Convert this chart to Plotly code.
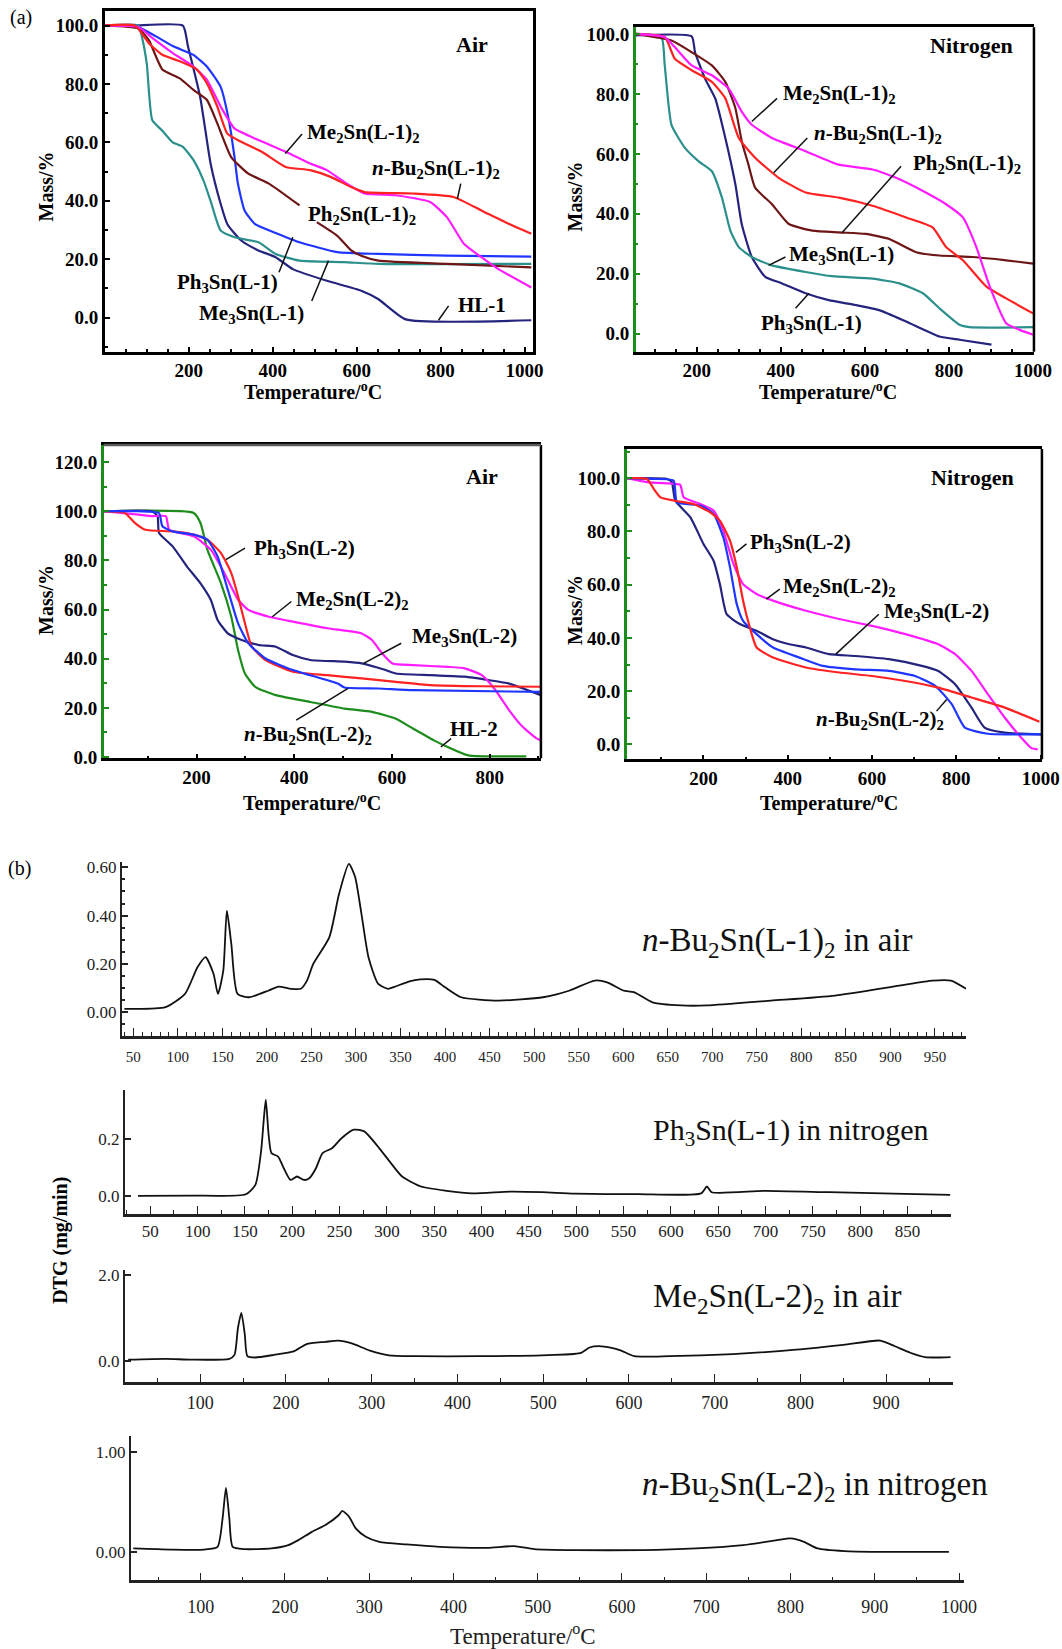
import plotly.graph_objects as go

W, H = 1062, 1649
# target pixel positions measured on the reference, corrected for the observed render mapping
def px(x): return ((x + 1.0) / 0.985) / W
def py(y): return 1 - ((y - 7.7) / 0.9908) / H

SERIF = "Liberation Serif"
NAVY = "#24247f"; TEAL = "#2b8f8c"; BLUE = "#2036ff"; BROWN = "#6e1616"
MAGENTA = "#ff1cff"; RED = "#ff2222"; GREEN = "#1d8c1d"

# ---------------- (a) TGA, L-1 in air ----------------
a1_hl1_T = [0, 68, 186, 198, 227, 252, 276, 292, 325, 366, 407, 448, 529, 611, 652, 717, 1016]
a1_hl1_m = [100, 100, 100, 93, 75.7, 52.8, 39, 32, 26.4, 23, 20.7, 16.6, 12.6, 9.2, 6.3, -0.6, -0.9]
a1_me3_T = [0, 80, 88, 100, 113, 137, 162, 186, 211, 235, 252, 276, 309, 366, 407, 464, 570, 652, 1016]
a1_me3_m = [100, 100, 96.4, 87, 67.7, 64, 60, 58.5, 54, 47, 40, 29.8, 27.5, 25.8, 21.8, 19.5, 19, 18.4, 18.4]
a1_ph3_T = [0, 72, 121, 162, 211, 243, 276, 297, 309, 317, 333, 358, 407, 464, 554, 652, 815, 1016]
a1_ph3_m = [100, 100, 96.4, 93, 90, 86, 79, 66.5, 55, 46, 36.7, 32, 29, 25.8, 22.4, 21.8, 21.2, 20.9]
a1_ph2_T = [0, 80, 105, 137, 178, 211, 243, 268, 301, 342, 391, 464, None, 505, 554, 587, 611, 652, 815, 1016]
a1_ph2_m = [100, 99, 95, 85, 82, 78, 74.6, 66.5, 55, 49.3, 45.9, 38.4, None, 32.7, 28, 23, 21.2, 19.5, 18.4, 17.2]
a1_me2_T = [0, 80, 113, 162, 211, 243, 276, 309, 366, 431, 489, 529, 570, 619, 693, 775, 815, 856, 897, 938, 1016]
a1_me2_m = [100, 99.5, 95.8, 90.6, 86, 81.5, 72.3, 64.8, 60.8, 56.8, 52.8, 50.5, 46.5, 42.5, 41.9, 39.6, 34.4, 25.2, 20.7, 16.6, 10.3]
a1_bu2_T = [0, 72, 105, 137, 178, 219, 243, 268, 292, 325, 374, 431, 489, 538, 587, 619, 734, 831, 897, 962, 1016]
a1_bu2_m = [100, 100, 94, 90, 87.8, 85, 80.3, 72.3, 63, 60.2, 56.8, 51.6, 50.5, 48.2, 44.7, 43, 42.5, 41.3, 36.7, 32.1, 28.7]

# ---------------- TGA, L-1 in nitrogen ----------------
a2_ph3_T = [55, 188, 196, 220, 244, 268, 292, 307, 331, 363, 403, 459, 514, 578, 634, 698, 777, 825, 901]
a2_ph3_m = [99.5, 99.2, 93.9, 85, 78.5, 65.3, 49.8, 36.6, 25.6, 19, 16.8, 13.5, 11.2, 9.6, 7.9, 4.1, -0.9, -2, -3.6]
a2_me3_T = [55, 116, 124, 140, 172, 204, 236, 260, 280, 300, 331, 379, 459, 522, 618, 682, 738, 777, 825, 849, 1004]
a2_me3_m = [100, 98.9, 89.5, 69.7, 62, 57.6, 54.2, 45.4, 34.4, 28.9, 25.6, 22.8, 20.6, 19.2, 18.4, 16.8, 13.5, 8.5, 3, 2.2, 2.2]
a2_ph2_T = [55, 140, 188, 236, 268, 292, 307, 323, 339, 379, 419, 475, 538, 602, 658, 722, 777, 857, 936, 1000]
a2_ph2_m = [100, 97.8, 93.9, 89.5, 84, 75.2, 64.2, 56.4, 48.7, 43.2, 36.6, 34.4, 33.8, 33.3, 31.6, 27.2, 26.1, 25.6, 24.5, 23.4]
a2_bu2_T = [55, 124, 148, 188, 236, 268, 300, 339, 395, 459, 538, 618, 698, 761, 793, 833, 889, 936, 1000]
a2_bu2_m = [100, 98.9, 91.7, 87.9, 84, 78.5, 65.3, 58.7, 52, 47.1, 45.4, 42.7, 38.8, 35.5, 28.9, 24.5, 15.7, 11.8, 6.8]
a2_me2_T = [55, 124, 148, 188, 236, 276, 307, 331, 379, 459, 538, 618, 674, 738, 793, 833, 865, 897, 936, 968, 1000]
a2_me2_m = [100, 98.9, 95.6, 89.5, 86.2, 81.8, 74.1, 69.7, 65.3, 60.9, 56.4, 54.8, 52, 47.6, 43.2, 38.8, 28.9, 15.7, 3.5, 1.3, -0.3]

# ---------------- TGA, L-2 in air ----------------
b1_hl2_T = [10, 194, 208, 222, 250, 271, 285, 299, 320, 362, 433, 503, 559, 608, 643, 686, 714, 756, 875]
b1_hl2_m = [100, 99.3, 95.2, 84.4, 70.7, 57.1, 43.5, 34, 28.6, 25.2, 22.4, 19.7, 18.4, 15.6, 11.6, 6.8, 4.1, 0.7, 0.3]
b1_me3_T = [10, 109, 120, 123, 151, 180, 208, 229, 243, 264, 292, 327, 362, 397, 433, 503, 538, 587, 608, 679, 749, 798, 840, 905]
b1_me3_m = [100, 100, 98, 91.2, 85.7, 77.6, 70.7, 64, 55.8, 50.3, 47.6, 45.6, 44.9, 41.5, 39.5, 38.8, 38.1, 35.4, 34, 33.3, 32.7, 31.3, 29.9, 25.2]
b1_ph3_T = [10, 53, 74, 95, 151, 194, 222, 250, 271, 285, 299, 313, 341, 397, 468, 538, 608, 679, 784, 905]
b1_ph3_m = [100, 99.3, 95.2, 92.5, 91.8, 90.5, 88.4, 83, 74.8, 65.3, 54.4, 44.9, 39.5, 34.7, 33.3, 32, 30.6, 29.3, 28.8, 28.6]
b1_bu2_T = [10, 81, 123, 130, 151, 194, 222, 243, 264, 285, 306, 341, 397, 433, 489, 503, 573, 643, 905]
b1_bu2_m = [100, 100, 99.3, 93.9, 91.8, 90.5, 88.4, 81.6, 68, 54.4, 46.3, 40.1, 35.4, 33.3, 29.9, 28.3, 27.9, 27.2, 26.5]
b1_me2_T = [10, 81, 109, 137, 144, 194, 229, 257, 285, 306, 348, 397, 468, 538, 559, 580, 601, 643, 714, 749, 784, 812, 840, 868, 897, 905]
b1_me2_m = [100, 98.6, 98, 98, 92.5, 89.8, 84.4, 74.8, 64, 59.9, 57.1, 55.1, 52.4, 50.3, 47.6, 42.2, 38.1, 37.4, 36.7, 36.1, 33.3, 27.2, 19, 12.2, 7.5, 6.8]

# ---------------- TGA, L-2 in nitrogen ----------------
b2_me3_T = [18, 114, 125, 133, 169, 200, 224, 239, 255, 286, 326, 365, 404, 443, 498, 561, 640, 718, 757, 797, 836, 867, 915, 1001]
b2_me3_m = [100, 99.7, 98.5, 91.6, 85.3, 75.3, 69, 60.2, 48.9, 45.2, 42.7, 39.5, 37.6, 36.4, 33.9, 33.2, 32, 29.5, 27.6, 22.6, 13.8, 6.3, 4.4, 3.8]
b2_bu2_T = [18, 74, 129, 137, 192, 224, 247, 263, 279, 294, 326, 365, 428, 483, 561, 640, 702, 750, 789, 820, 875, 1001]
b2_bu2_m = [100, 99.7, 99.1, 91, 89.7, 86.6, 77.8, 66.5, 52.7, 46.4, 41.4, 36.4, 32.6, 29.5, 28.2, 27.6, 25.7, 22, 15.1, 6.3, 4, 3.8]
b2_ph3_T = [18, 66, 82, 98, 129, 176, 216, 239, 263, 279, 294, 310, 326, 365, 443, 522, 600, 679, 757, 836, 915, 997]
b2_ph3_m = [100, 99.7, 96, 92.8, 91.6, 90.3, 87.2, 84, 76.5, 66.5, 54, 43.9, 36.4, 32.6, 28.9, 27, 25.7, 23.8, 21.3, 17.6, 13.8, 8.5]
b2_me2_T = [18, 66, 129, 145, 153, 192, 224, 247, 271, 294, 326, 365, 443, 522, 600, 679, 757, 797, 836, 875, 915, 954, 977, 993]
b2_me2_m = [100, 98.5, 97.9, 97.5, 92.8, 90.3, 87.8, 80.3, 67.8, 60.2, 56.5, 54, 50.2, 47.1, 44.5, 41.4, 37.6, 33.9, 27.6, 18.8, 10, 2.5, -1.3, -1.9]

# ---------------- (b) DTG ----------------
d1_T = [40, 86, 108, 122, 131, 140, 145, 151, 155, 160, 167, 180, 202, 213, 227, 238, 245, 252, 270, 281, 292, 299, 306, 314, 325, 336, 343, 360, 372, 388, 400, 418, 460, 510, 540, 568, 582, 600, 612, 633, 665, 694, 766, 838, 910, 947, 968, 985]
d1_v = [0.014, 0.021, 0.076, 0.186, 0.228, 0.159, 0.076, 0.172, 0.42, 0.283, 0.076, 0.062, 0.09, 0.106, 0.097, 0.097, 0.131, 0.2, 0.31, 0.49, 0.614, 0.56, 0.41, 0.228, 0.117, 0.097, 0.105, 0.128, 0.136, 0.134, 0.103, 0.062, 0.048, 0.062, 0.09, 0.131, 0.124, 0.09, 0.083, 0.041, 0.028, 0.028, 0.048, 0.069, 0.11, 0.131, 0.131, 0.097]
d2_T = [37, 94, 151, 161, 167, 170, 172, 175, 178, 185, 191, 198, 205, 212, 218, 225, 232, 242, 252, 265, 276, 289, 303, 316, 336, 363, 390, 430, 464, 498, 565, 632, 638, 643, 700, 767, 835, 895]
d2_v = [0.0, 0.001, 0.006, 0.039, 0.156, 0.273, 0.337, 0.214, 0.15, 0.138, 0.097, 0.056, 0.068, 0.056, 0.062, 0.097, 0.15, 0.167, 0.202, 0.232, 0.226, 0.179, 0.12, 0.068, 0.033, 0.018, 0.009, 0.015, 0.013, 0.008, 0.006, 0.009, 0.033, 0.013, 0.018, 0.013, 0.008, 0.004]
d3_T = [16, 60, 90, 134, 140, 144, 148, 152, 155, 164, 186, 209, 224, 246, 261, 276, 298, 320, 350, 424, 498, 543, 554, 565, 580, 591, 606, 647, 721, 795, 850, 893, 910, 928, 945, 960, 975]
d3_v = [0.04, 0.06, 0.04, 0.06, 0.15, 0.77, 1.12, 0.62, 0.12, 0.09, 0.15, 0.23, 0.4, 0.45, 0.48, 0.42, 0.25, 0.14, 0.12, 0.12, 0.14, 0.19, 0.32, 0.35, 0.31, 0.25, 0.12, 0.12, 0.17, 0.27, 0.38, 0.48, 0.35, 0.2, 0.1, 0.09, 0.1]
d4_T = [20, 64, 104, 120, 126, 130, 134, 138, 152, 184, 204, 216, 232, 248, 264, 268, 276, 284, 296, 312, 344, 384, 440, 472, 496, 544, 624, 688, 744, 784, 800, 816, 832, 864, 904, 988]
d4_v = [0.034, 0.023, 0.023, 0.05, 0.336, 0.64, 0.336, 0.05, 0.027, 0.034, 0.067, 0.117, 0.2, 0.268, 0.369, 0.41, 0.352, 0.235, 0.151, 0.1, 0.074, 0.05, 0.04, 0.057, 0.027, 0.017, 0.017, 0.034, 0.067, 0.117, 0.134, 0.1, 0.034, 0.007, 0.0, 0.0]

fig = go.Figure()

def add_curve(T, v, color, ax, width=2.2, smooth=0.5):
    fig.add_trace(go.Scatter(
        x=T, y=v, mode="lines",
        line=dict(color=color, width=width, shape="spline", smoothing=smooth),
        xaxis="x" + ax, yaxis="y" + ax, showlegend=False, hoverinfo="skip",
        connectgaps=False))

for T, m, c in [(a1_hl1_T, a1_hl1_m, NAVY), (a1_me3_T, a1_me3_m, TEAL), (a1_ph3_T, a1_ph3_m, BLUE),
                (a1_ph2_T, a1_ph2_m, BROWN), (a1_me2_T, a1_me2_m, MAGENTA), (a1_bu2_T, a1_bu2_m, RED)]:
    add_curve(T, m, c, "")
for T, m, c in [(a2_ph3_T, a2_ph3_m, NAVY), (a2_me3_T, a2_me3_m, TEAL), (a2_ph2_T, a2_ph2_m, BROWN),
                (a2_bu2_T, a2_bu2_m, RED), (a2_me2_T, a2_me2_m, MAGENTA)]:
    add_curve(T, m, c, "2")
for T, m, c in [(b1_hl2_T, b1_hl2_m, GREEN), (b1_me3_T, b1_me3_m, NAVY), (b1_me2_T, b1_me2_m, MAGENTA),
                (b1_ph3_T, b1_ph3_m, RED), (b1_bu2_T, b1_bu2_m, BLUE)]:
    add_curve(T, m, c, "3")
for T, m, c in [(b2_me3_T, b2_me3_m, NAVY), (b2_me2_T, b2_me2_m, MAGENTA), (b2_bu2_T, b2_bu2_m, BLUE),
                (b2_ph3_T, b2_ph3_m, RED)]:
    add_curve(T, m, c, "4")
add_curve(d1_T, d1_v, "#111111", "5", width=1.8, smooth=0.6)
add_curve(d2_T, d2_v, "#111111", "6", width=1.8, smooth=0.6)
add_curve(d3_T, d3_v, "#111111", "7", width=1.8, smooth=0.6)
add_curve(d4_T, d4_v, "#111111", "8", width=1.8, smooth=0.6)

def dom_x(l, r): return [max(0, px(l)), min(1, px(r))]
def dom_y(top, bot): return [max(0, py(bot)), min(1, py(top))]

bold_tick = dict(family=SERIF, size=19, color="black", weight="bold")

def tga_x(domain, rng, tickvals, anchor, minor_dtick=50):
    return dict(domain=domain, range=rng, tickvals=tickvals, tickformat="d",
                ticks="inside", ticklen=5, tickwidth=1.5, tickcolor="black",
                minor=dict(ticks="inside", ticklen=3, tick0=0, dtick=minor_dtick, tickcolor="black"),
                showline=True, linewidth=2.5, linecolor="black", mirror=True,
                showgrid=False, zeroline=False, anchor=anchor, tickfont=bold_tick,
                ticklabelstandoff=0)

def tga_y(domain, rng, tickvals, anchor, color="black", mirror=True):
    return dict(domain=domain, range=rng, tickvals=tickvals, tickformat=".1f",
                ticks="inside", ticklen=5, tickwidth=1.5, tickcolor=color,
                minor=dict(ticks="inside", ticklen=3, tick0=0, dtick=10, tickcolor=color),
                showline=True, linewidth=2.5, linecolor=color, mirror=mirror,
                showgrid=False, zeroline=False, anchor=anchor, tickfont=bold_tick)

def dtg_x(domain, rng, tickvals, anchor, minor_dtick, size, standoff):
    return dict(domain=domain, range=rng, tickvals=tickvals, tickformat="d",
                ticks="inside", ticklen=8, tickwidth=1.3, tickcolor="#222",
                minor=dict(ticks="inside", ticklen=4, tick0=0, dtick=minor_dtick, tickcolor="#222"),
                showline=True, linewidth=2.5, linecolor="#222", mirror=False,
                showgrid=False, zeroline=False, anchor=anchor,
                tickfont=dict(family=SERIF, size=size, color="#222"), ticklabelstandoff=standoff)

def dtg_y(domain, rng, tickvals, fmt, anchor, minor_dtick=None):
    d = dict(domain=domain, range=rng, tickvals=tickvals, tickformat=fmt,
             ticks="inside", ticklen=6, tickwidth=1.5, tickcolor="#222",
             showline=True, linewidth=1.6, linecolor="#222", mirror=False,
             showgrid=False, zeroline=False, anchor=anchor,
             tickfont=dict(family=SERIF, size=17, color="#222"))
    if minor_dtick:
        d["minor"] = dict(ticks="inside", ticklen=3, tick0=0, dtick=minor_dtick, tickcolor="#222")
    return d

layout = dict(
    width=W, height=H, autosize=False, margin=dict(l=0, r=0, t=0, b=0),
    paper_bgcolor="white", plot_bgcolor="white", showlegend=False,
    xaxis=tga_x(dom_x(104, 533), [0, 1020], [200, 400, 600, 800, 1000], "y"),
    yaxis=tga_y(dom_y(15, 355), [-11.7, 104.9], [0, 20, 40, 60, 80, 100], "x"),
    xaxis2=tga_x(dom_x(636, 1035), [55, 1002], [200, 400, 600, 800, 1000], "y2"),
    yaxis2=tga_y(dom_y(31, 355), [-6.0, 102.2], [0, 20, 40, 60, 80, 100], "x2", GREEN, False),
    xaxis3=tga_x(dom_x(103, 541), [10, 905], [200, 400, 600, 800], "y3", 100),
    yaxis3=tga_y(dom_y(448, 761), [-0.5, 127], [0, 20, 40, 60, 80, 100, 120], "x3", GREEN, False),
    xaxis4=tga_x(dom_x(627, 1043), [18, 1003], [200, 400, 600, 800, 1000], "y4", 100),
    yaxis4=tga_y(dom_y(452, 762), [-5.6, 111], [0, 20, 40, 60, 80, 100], "x4", GREEN, False),
    xaxis5=dtg_x(dom_x(121, 967), [37, 985], list(range(50, 951, 50)), "y5", 10, 15, 6),
    yaxis5=dtg_y(dom_y(865, 1038), [-0.097, 0.62], [0, 0.2, 0.4, 0.6], ".2f", "x5", 0.05),
    xaxis6=dtg_x(dom_x(124, 952), [23, 896], list(range(50, 851, 50)), "y6", 25, 17, 0),
    yaxis6=dtg_y(dom_y(1092, 1216), [-0.063, 0.372], [0, 0.2], ".1f", "x6"),
    xaxis7=dtg_x(dom_x(124, 954), [12, 978], list(range(100, 901, 100)), "y7", 50, 18, 3),
    yaxis7=dtg_y(dom_y(1272, 1384), [-0.478, 2.108], [0, 2], ".1f", "x7"),
    xaxis8=dtg_x(dom_x(130, 965), [17, 1006], list(range(100, 1001, 100)), "y8", 50, 18, 8),
    yaxis8=dtg_y(dom_y(1438, 1582), [-0.286, 1.158], [0, 1], ".2f", "x8"),
)

shapes = []
for ax in ["2", "3", "4"]:
    shapes.append(dict(type="line", xref="x%s domain" % ax, yref="y%s domain" % ax,
                       x0=1, x1=1, y0=0, y1=1, line=dict(color="black", width=2.5)))
shapes.append(dict(type="line", xref="x3 domain", yref="y3 domain", x0=0, x1=1, y0=1, y1=1,
                   line=dict(color="#5a5a5a", width=2.5)))

def leader(ax, x0, y0, x1, y1):
    shapes.append(dict(type="line", xref="x" + ax, yref="y" + ax, x0=x0, y0=y0, x1=x1, y1=y1,
                       line=dict(color="#111", width=1.5)))

leader("", 430, 56.2, 470, 62.9)
leader("", 840, 40.7, 848, 45.9)
leader("", 415, 15.5, 448, 27.5)
leader("", 493, 5.7, 533, 19.5)
leader("", 795, -0.9, 819, 4.0)
leader("2", 331, 70.8, 391, 78.5)
leader("2", 383, 53.7, 463, 65.3)
leader("2", 546, 33.8, 686, 55.9)
leader("2", 371, 22.8, 411, 25.6)
leader("2", 435, 8.5, 467, 13.5)
leader("3", 260, 80.3, 299, 85.0)
leader("3", 355, 57.1, 394, 63.3)
leader("3", 542, 38.1, 619, 46.3)
leader("3", 404, 15.0, 510, 27.9)
leader("3", 700, 4.1, 721, 7.5)
leader("4", 277, 72.1, 302, 75.3)
leader("4", 349, 54.6, 381, 58.3)
leader("4", 514, 33.9, 616, 48.9)
leader("4", 753, 12.5, 777, 16.9)
layout["shapes"] = shapes

ann = []
def text(x, y, s, size=21, bold=True, xanchor="left", angle=0, color="black"):
    ann.append(dict(x=px(x), y=py(y), xref="paper", yref="paper", text=s, showarrow=False,
                    xanchor=xanchor, yanchor="middle", textangle=angle,
                    font=dict(family=SERIF, size=size, color=color, weight="bold" if bold else "normal")))

ME2_1 = "Me<sub>2</sub>Sn(L-1)<sub>2</sub>"
BU2_1 = "<i>n</i>-Bu<sub>2</sub>Sn(L-1)<sub>2</sub>"
PH2_1 = "Ph<sub>2</sub>Sn(L-1)<sub>2</sub>"
PH3_1 = "Ph<sub>3</sub>Sn(L-1)"
ME3_1 = "Me<sub>3</sub>Sn(L-1)"
PH3_2 = "Ph<sub>3</sub>Sn(L-2)"
ME2_2 = "Me<sub>2</sub>Sn(L-2)<sub>2</sub>"
ME3_2 = "Me<sub>3</sub>Sn(L-2)"
BU2_2 = "<i>n</i>-Bu<sub>2</sub>Sn(L-2)<sub>2</sub>"

text(20, 21, "(a)", 20, False, "center")
text(19, 871, "(b)", 20, False, "center")
text(472, 48, "Air", 22, True, "center")
text(972, 49, "Nitrogen", 22, True, "center")
text(482, 480, "Air", 22, True, "center")
text(973, 481, "Nitrogen", 22, True, "center")

text(305, 137, ME2_1); text(370, 172, BU2_1); text(306, 218, PH2_1)
text(174, 286, PH3_1); text(196, 317, ME3_1); text(456, 308, "HL-1")
text(782, 98, ME2_1); text(813, 138, BU2_1); text(912, 167, PH2_1)
text(788, 258, ME3_1); text(760, 327, PH3_1)
text(251, 552, PH3_2); text(294, 603, ME2_2); text(410, 640, ME3_2)
text(241, 738, BU2_2); text(448, 732, "HL-2")
text(748, 546, PH3_2); text(782, 590, ME2_2); text(883, 615, ME3_2); text(815, 723, BU2_2)

TEMP = "Temperature/<sup>o</sup>C"
for (mx, my, tx, ty) in [(45, 190, 313, 395), (575, 200, 829, 395), (45, 603, 312, 805), (575, 613, 830, 805)]:
    text(mx, my, "Mass/%", 20, True, "center", -90)
    text(tx, ty, TEMP, 20, True, "center")

text(60, 1242, "DTG (mg/min)", 20, True, "center", -90)
text(523, 1636, TEMP, 23, False, "center", color="#222")
text(778, 945, "<i>n</i>-Bu<sub>2</sub>Sn(L-1)<sub>2</sub> in air", 33, False, "center", color="#111")
text(791, 1134, "Ph<sub>3</sub>Sn(L-1) in nitrogen", 30, False, "center", color="#111")
text(778, 1300, "Me<sub>2</sub>Sn(L-2)<sub>2</sub> in air", 33, False, "center", color="#111")
text(816, 1488, "<i>n</i>-Bu<sub>2</sub>Sn(L-2)<sub>2</sub> in nitrogen", 33, False, "center", color="#111")
layout["annotations"] = ann

fig.update_layout(**layout)
fig.write_html("out.html",
               post_script="document.body.style.margin='0';document.body.style.overflow='hidden';")
